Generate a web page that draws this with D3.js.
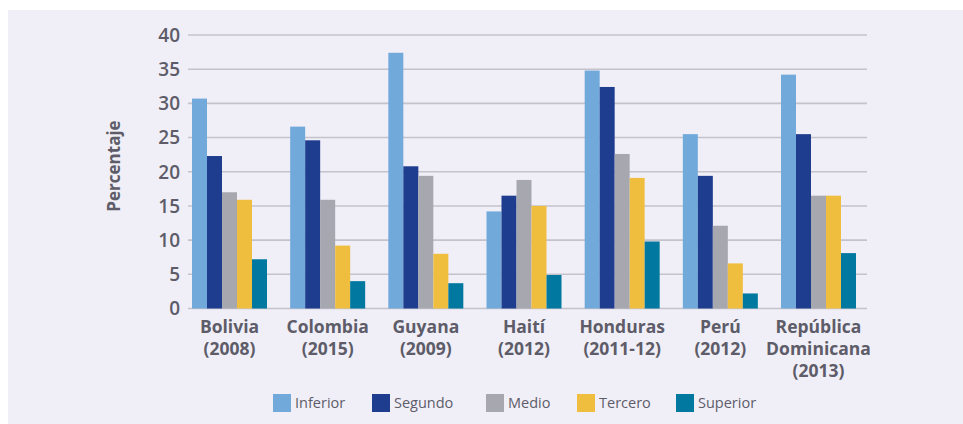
<!DOCTYPE html>
<html><head><meta charset="utf-8">
<script src="https://cdn.jsdelivr.net/npm/d3@7"></script>
<style>
html,body{margin:0;padding:0;background:#ffffff;}
svg{display:block;}
text{font-family:"Open Sans",sans-serif;}
</style></head>
<body>
<script>
const categories = [["Bolivia","(2008)"],["Colombia","(2015)"],["Guyana","(2009)"],["Haití","(2012)"],["Honduras","(2011-12)"],["Perú","(2012)"],["República","Dominicana","(2013)"]];
const seriesNames = ["Inferior","Segundo","Medio","Tercero","Superior"];
const inferior = [30.7, 26.6, 37.4, 14.2, 34.8, 25.5, 34.2];
const segundo  = [22.3, 24.6, 20.8, 16.5, 32.4, 19.4, 25.5];
const medio    = [17.0, 15.9, 19.4, 18.8, 22.6, 12.1, 16.5];
const tercero  = [15.9,  9.2,  8.0, 15.0, 19.1,  6.6, 16.5];
const superior = [ 7.2,  4.0,  3.7,  4.9,  9.8,  2.2,  8.1];
const yTicks = [0,5,10,15,20,25,30,35,40];
const colors = ["#72a9db","#1f3d8f","#a7a7b0","#efbe3f","#00789f"];
const seriesValues = [inferior, segundo, medio, tercero, superior];

const W = 963, H = 424;
const svg = d3.select("body").append("svg").attr("width", W).attr("height", H);
svg.append("rect").attr("x", 8).attr("y", 10).attr("width", W - 8).attr("height", H - 10).attr("fill", "#f0eff8");

const y = d3.scaleLinear().domain([0, 40]).range([308.5, 35]);
const keys = categories.map((c, i) => i);
const x0 = d3.scaleBand().domain(keys).range([192, 856]).paddingInner(0.236).paddingOuter(0);
const x1 = d3.scaleBand().domain(seriesNames).range([0, x0.bandwidth()]).padding(0);

const textCol = "#5d5c68";

// gridlines
svg.append("g").selectAll("line").data(yTicks).join("line")
  .attr("x1", 188).attr("x2", 867)
  .attr("y1", d => y(d)).attr("y2", d => y(d))
  .attr("stroke", "#c4c3cb").attr("stroke-width", 1.6);

// y tick labels
svg.append("g").selectAll("text").data(yTicks).join("text")
  .attr("x", 180).attr("y", d => y(d)).attr("dy", "0.36em")
  .attr("text-anchor", "end").attr("font-size", 19).attr("font-weight", 600)
  .attr("fill", textCol).text(d => d);

// axis title
svg.append("text").attr("transform", "translate(114,166) rotate(-90)")
  .attr("text-anchor", "middle").attr("dy", "0.35em")
  .attr("font-size", 17).attr("font-weight", 700).attr("fill", textCol).text("Percentaje");

// bars
const groups = svg.append("g").selectAll("g").data(keys).join("g")
  .attr("transform", d => `translate(${x0(d)},0)`);
groups.selectAll("rect").data(i => seriesNames.map((s, k) => ({s, k, v: seriesValues[k][i]})))
  .join("rect")
  .attr("x", d => x1(d.s)).attr("width", x1.bandwidth())
  .attr("y", d => y(d.v)).attr("height", d => y(0) - y(d.v))
  .attr("fill", d => colors[d.k]);

// category labels
const cl = svg.append("g").selectAll("text").data(keys).join("text")
  .attr("x", d => x0(d) + x0.bandwidth() / 2).attr("y", 333)
  .attr("text-anchor", "middle").attr("font-size", 17.5).attr("font-weight", 700).attr("fill", textCol);
cl.selectAll("tspan").data(i => categories[i].map((t, j) => ({t, j, i}))).join("tspan")
  .attr("x", d => x0(d.i) + x0.bandwidth() / 2).attr("dy", d => d.j === 0 ? 0 : 22).text(d => d.t);

// legend
const legX = [273, 372, 486, 577, 676];
const leg = svg.append("g").selectAll("g").data(seriesNames).join("g")
  .attr("transform", (d, i) => `translate(${legX[i]},394)`);
leg.append("rect").attr("width", 18).attr("height", 18).attr("fill", (d, i) => colors[i]);
leg.append("text").attr("x", 22).attr("y", 9).attr("dy", "0.35em")
  .attr("font-size", 14.5).attr("font-weight", 500).attr("fill", textCol).text(d => d);
</script>
</body></html>
